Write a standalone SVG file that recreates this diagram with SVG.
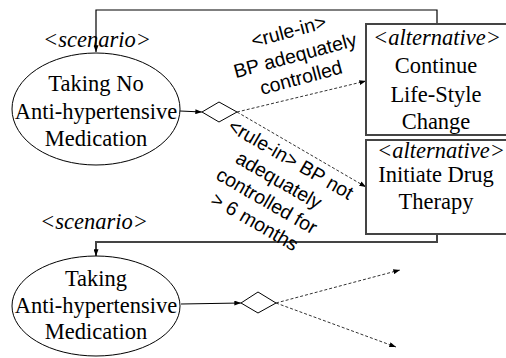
<svg xmlns="http://www.w3.org/2000/svg" width="506" height="358" viewBox="0 0 506 358">
<defs>
<marker id="ah" viewBox="0 0 8 6" refX="8" refY="3" markerWidth="7" markerHeight="5" markerUnits="userSpaceOnUse" orient="auto">
<path d="M0,0 L8,3 L0,6 Z" fill="#000"/>
</marker>
</defs>
<style>
.ser{font-family:"Liberation Serif","Times New Roman",serif;font-size:22.5px;fill:#000;text-anchor:middle}
.it{font-style:italic}
.lbl{font-family:"Liberation Sans",Arial,sans-serif;font-size:19.5px;fill:#000;text-anchor:middle}
.node{fill:#fff;stroke:#000;stroke-width:1}
.box{fill:#fff;stroke:#444;stroke-width:2}
.solid{fill:none;stroke:#000;stroke-width:1.2}
.gray{fill:none;stroke:#444;stroke-width:2}
.dash{fill:none;stroke:#333;stroke-width:1;stroke-dasharray:3,2}
</style>
<g id="connectors">
<path class="solid" d="M437,24 V10 H96 V52" marker-end="url(#ah)"/>
<path class="gray" d="M437,234 V242 H96 V256" marker-end="url(#ah)"/>
<path class="solid" d="M180,111 L202,112" marker-end="url(#ah)"/>
<path class="solid" d="M181,304 L241,303" marker-end="url(#ah)"/>
<path class="dash" d="M237,112 L366,81" marker-end="url(#ah)"/>
<path class="dash" d="M237,112 L366,187" marker-end="url(#ah)"/>
<path class="dash" d="M276,303 L400,270" marker-end="url(#ah)"/>
<path class="dash" d="M276,303 L396,347" marker-end="url(#ah)"/>
<g transform="translate(295,55) rotate(-15)">
<text class="lbl" y="-18">&lt;rule-in&gt;</text>
<text class="lbl" y="7">BP adequately</text>
<text class="lbl" y="30">controlled</text>
</g>
<g transform="translate(291,159) rotate(30)">
<text class="lbl" y="7">&lt;rule-in&gt; BP not</text>
<text class="lbl" y="31">adequately</text>
<text class="lbl" y="55">controlled for</text>
<text class="lbl" y="79">&gt; 6 months</text>
</g>
</g>
<g id="scenario1">
<text class="ser it" x="97" y="47">&lt;scenario&gt;</text>
<ellipse class="node" cx="96" cy="109" rx="84" ry="56"/>
<text class="ser" x="96" y="91">Taking No</text>
<text class="ser" x="96" y="119">Anti-hypertensive</text>
<text class="ser" x="96" y="146">Medication</text>
</g>
<g id="decision1">
<polygon class="node" points="202,112 219,102 237,112 219,122"/>
</g>
<g id="alt1">
<rect class="box" x="366" y="24" width="142" height="111"/>
<text class="ser it" x="437" y="45">&lt;alternative&gt;</text>
<text class="ser" x="436" y="73">Continue</text>
<text class="ser" x="436" y="102">Life-Style</text>
<text class="ser" x="436" y="129">Change</text>
</g>
<g id="alt2">
<rect class="box" x="366" y="140" width="142" height="94"/>
<text class="ser it" x="441" y="158">&lt;alternative&gt;</text>
<text class="ser" x="436" y="182">Initiate Drug</text>
<text class="ser" x="436" y="209">Therapy</text>
</g>
<g id="scenario2">
<text class="ser it" x="94" y="229">&lt;scenario&gt;</text>
<ellipse class="node" cx="96" cy="306" rx="84" ry="50"/>
<text class="ser" x="96" y="286">Taking</text>
<text class="ser" x="96" y="313">Anti-hypertensive</text>
<text class="ser" x="96" y="339">Medication</text>
</g>
<g id="decision2">
<polygon class="node" points="241,303 258,292 276,303 258,313"/>
</g>
</svg>
